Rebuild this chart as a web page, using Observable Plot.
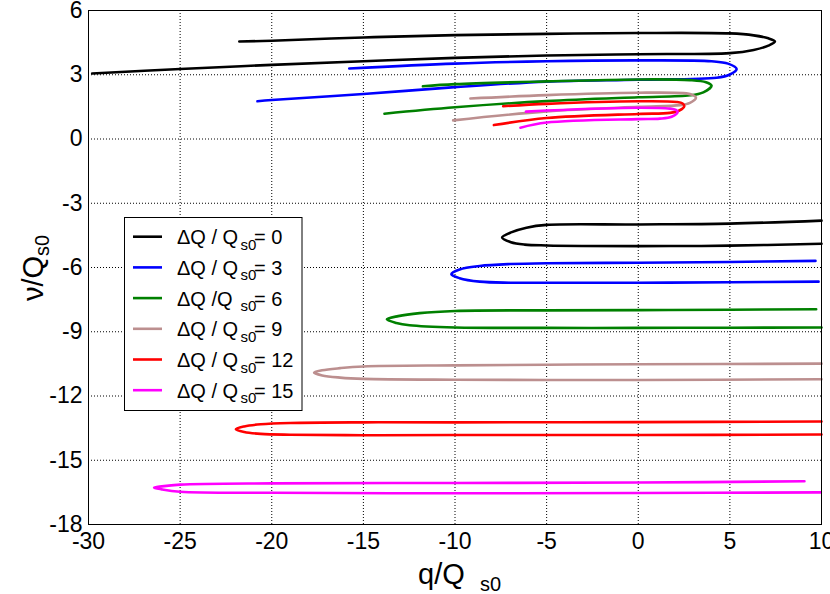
<!DOCTYPE html>
<html><head><meta charset="utf-8">
<script src="https://cdn.jsdelivr.net/npm/d3@7"></script>
<script src="https://cdn.jsdelivr.net/npm/@observablehq/plot@0.6"></script>
<style>body{margin:0;background:#fff} #chart{width:830px;height:594px}</style>
</head><body><div id="chart"></div>
<script>
const xTicks = [-30,-25,-20,-15,-10,-5,0,5,10];
const yTicks = [-18,-15,-12,-9,-6,-3,0,3,6];
const dQ = [0,3,6,9,12,15];
const colors = ["#000000","#0000ff","#008000","#bc8f8f","#ff0000","#ff00ff"];
const legendText = ["ΔQ / Q","ΔQ / Q","ΔQ /Q","ΔQ / Q","ΔQ / Q","ΔQ / Q"];

// upper (positive ν) hairpins: [q, ν] along the path
const top0 = [[-21.77,4.55],[-20,4.59],[-15,4.74],[-10,4.85],[-5,4.91],[0,4.95],[5,4.93],[6.3,4.84],[7.1,4.7],[7.46,4.55],[7.1,4.36],[6.3,4.16],[5,4.01],[0,3.96],[-5,3.9],[-10,3.79],[-15,3.63],[-20,3.46],[-25,3.27],[-29.8,3.06]];
const top3 = [[-15.77,3.29],[-10,3.52],[-5,3.63],[0,3.67],[4,3.63],[4.9,3.52],[5.37,3.27],[5.0,3.01],[4.28,2.86],[0,2.77],[-5,2.68],[-10,2.42],[-15,2.10],[-20,1.82],[-20.78,1.76]];
const top6 = [[-11.75,2.46],[-10,2.56],[-5,2.69],[0,2.78],[2.82,2.75],[3.7,2.65],[4.0,2.49],[3.55,2.18],[2.82,2.04],[0,1.95],[-5,1.77],[-10,1.48],[-13.85,1.18]];
const top9 = [[-9.16,1.89],[-5,2.05],[0,2.16],[2.46,2.14],[2.95,2.06],[3.15,1.93],[2.82,1.69],[2.28,1.58],[0,1.50],[-5,1.29],[-10.1,0.87]];
const top12 = [[-7.37,1.53],[-5,1.64],[0,1.76],[2.09,1.73],[2.42,1.66],[2.51,1.53],[2.24,1.33],[1.73,1.22],[0,1.17],[-5,0.98],[-7.88,0.65]];
const top15 = [[-6.13,1.28],[-5,1.33],[0,1.46],[1.73,1.42],[2.05,1.36],[2.15,1.27],[1.82,1.04],[1.18,0.95],[0,0.93],[-5,0.77],[-6.43,0.53]];

// lower (negative ν) hairpins
const bot0 = [[10,-3.81],[5,-3.95],[0,-3.99],[-5,-4.01],[-6.1,-4.14],[-6.9,-4.35],[-7.43,-4.6],[-6.95,-4.82],[-6.2,-4.93],[-5,-4.97],[0,-5.0],[5,-4.98],[10,-4.89]];
const bot3 = [[9.67,-5.69],[5,-5.74],[0,-5.78],[-5,-5.80],[-7,-5.84],[-8.65,-5.93],[-9.75,-6.09],[-10.2,-6.31],[-9.75,-6.5],[-8.65,-6.66],[-7,-6.71],[-5,-6.71],[0,-6.71],[5,-6.69],[9.84,-6.66]];
const bot6 = [[9.71,-7.95],[5,-7.97],[0,-7.99],[-5,-8.0],[-10,-8.03],[-11.93,-8.13],[-13.1,-8.27],[-13.72,-8.42],[-13.2,-8.59],[-12.48,-8.70],[-10,-8.80],[-5,-8.82],[0,-8.82],[5,-8.81],[10,-8.80]];
const bot9 = [[10,-10.49],[0,-10.52],[-5,-10.54],[-10,-10.57],[-15,-10.62],[-16.27,-10.70],[-17.25,-10.80],[-17.69,-10.91],[-17.25,-11.04],[-16.27,-11.14],[-15,-11.2],[-10,-11.24],[-5,-11.25],[0,-11.25],[10,-11.22]];
const bot12 = [[10,-13.19],[0,-13.22],[-10,-13.23],[-15,-13.23],[-19,-13.26],[-20.6,-13.32],[-21.5,-13.42],[-21.96,-13.55],[-21.5,-13.68],[-20.6,-13.77],[-19,-13.81],[-15,-13.83],[-10,-13.82],[0,-13.82],[10,-13.80]];
const bot15 = [[9.07,-15.98],[0,-16.04],[-10,-16.06],[-20,-16.08],[-25,-16.14],[-26.0,-16.22],[-26.42,-16.28],[-26.0,-16.36],[-25,-16.47],[-20,-16.52],[-10,-16.54],[0,-16.53],[9.95,-16.5]];

const series = [[top0,bot0],[top3,bot3],[top6,bot6],[top9,bot9],[top12,bot12],[top15,bot15]];

const font = "'Liberation Sans', Arial, Helvetica, sans-serif";
const lineMarks = [];
series.forEach(([t,b],i)=>{
  for (const path of [t,b]) {
    lineMarks.push(Plot.line(path, {x: d=>d[0], y: d=>d[1], stroke: colors[i], strokeWidth: 2.6, curve: "catmull-rom"}));
  }
});

const plot = Plot.plot({
  width: 830, height: 594,
  marginLeft: 88, marginRight: 9, marginTop: 10, marginBottom: 70,
  style: {fontFamily: font, background: "white", color: "black"},
  x: {domain: [-30, 10]},
  y: {domain: [-18, 6]},
  marks: [
    Plot.gridX(xTicks, {stroke: "black", strokeOpacity: 1, strokeWidth: 1, strokeDasharray: "1,2"}),
    Plot.gridY(yTicks, {stroke: "black", strokeOpacity: 1, strokeWidth: 1, strokeDasharray: "1,2"}),
    ...lineMarks,
    Plot.frame({stroke: "black", strokeWidth: 1}),
    Plot.axisX(xTicks, {tickSize: 0, tickPadding: 8, fontSize: 23, tickFormat: d=>String(d), label: null}),
    Plot.axisY(yTicks, {tickSize: 0, tickPadding: 6, fontSize: 23, tickFormat: d=>String(d), label: null})
  ]
});
document.getElementById("chart").appendChild(plot);

const svg = d3.select(plot);
// x label
const xl = svg.append("text").attr("font-family", font).attr("fill", "black").attr("text-anchor", "start");
xl.append("tspan").attr("x", 418).attr("y", 584).attr("font-size", 29).text("q/Q");
xl.append("tspan").attr("x", 480).attr("y", 591).attr("font-size", 20).text("s0");
// y label
const yl = svg.append("g").attr("transform", "translate(43,301) rotate(-90)");
const ylt = yl.append("text").attr("font-family", font).attr("fill", "black").attr("text-anchor", "start");
ylt.append("tspan").attr("x", 0).attr("y", 0).attr("font-size", 29).text("ν/Q");
ylt.append("tspan").attr("dy", 6).attr("font-size", 20).text("s0");

// legend
const lg = svg.append("g").attr("font-family", font).attr("text-anchor", "start");
lg.append("rect").attr("x", 124.5).attr("y", 217.5).attr("width", 177.5).attr("height", 193)
  .attr("fill", "white").attr("stroke", "black").attr("stroke-width", 1);
dQ.forEach((v, i) => {
  const cy = 236.7 + i * 30.7;
  lg.append("line").attr("x1", 133).attr("x2", 162).attr("y1", cy).attr("y2", cy)
    .attr("stroke", colors[i]).attr("stroke-width", 2.6);
  lg.append("text").attr("x", 177).attr("y", cy + 7.5).attr("font-size", 20).attr("fill", "black").text(legendText[i]);
  lg.append("text").attr("x", 240.5).attr("y", cy + 13).attr("font-size", 15).attr("fill", "black").text("s0");
  lg.append("text").attr("x", 254).attr("y", cy + 7.5).attr("font-size", 20).attr("fill", "black").text("= " + v);
});
</script>
</body></html>
